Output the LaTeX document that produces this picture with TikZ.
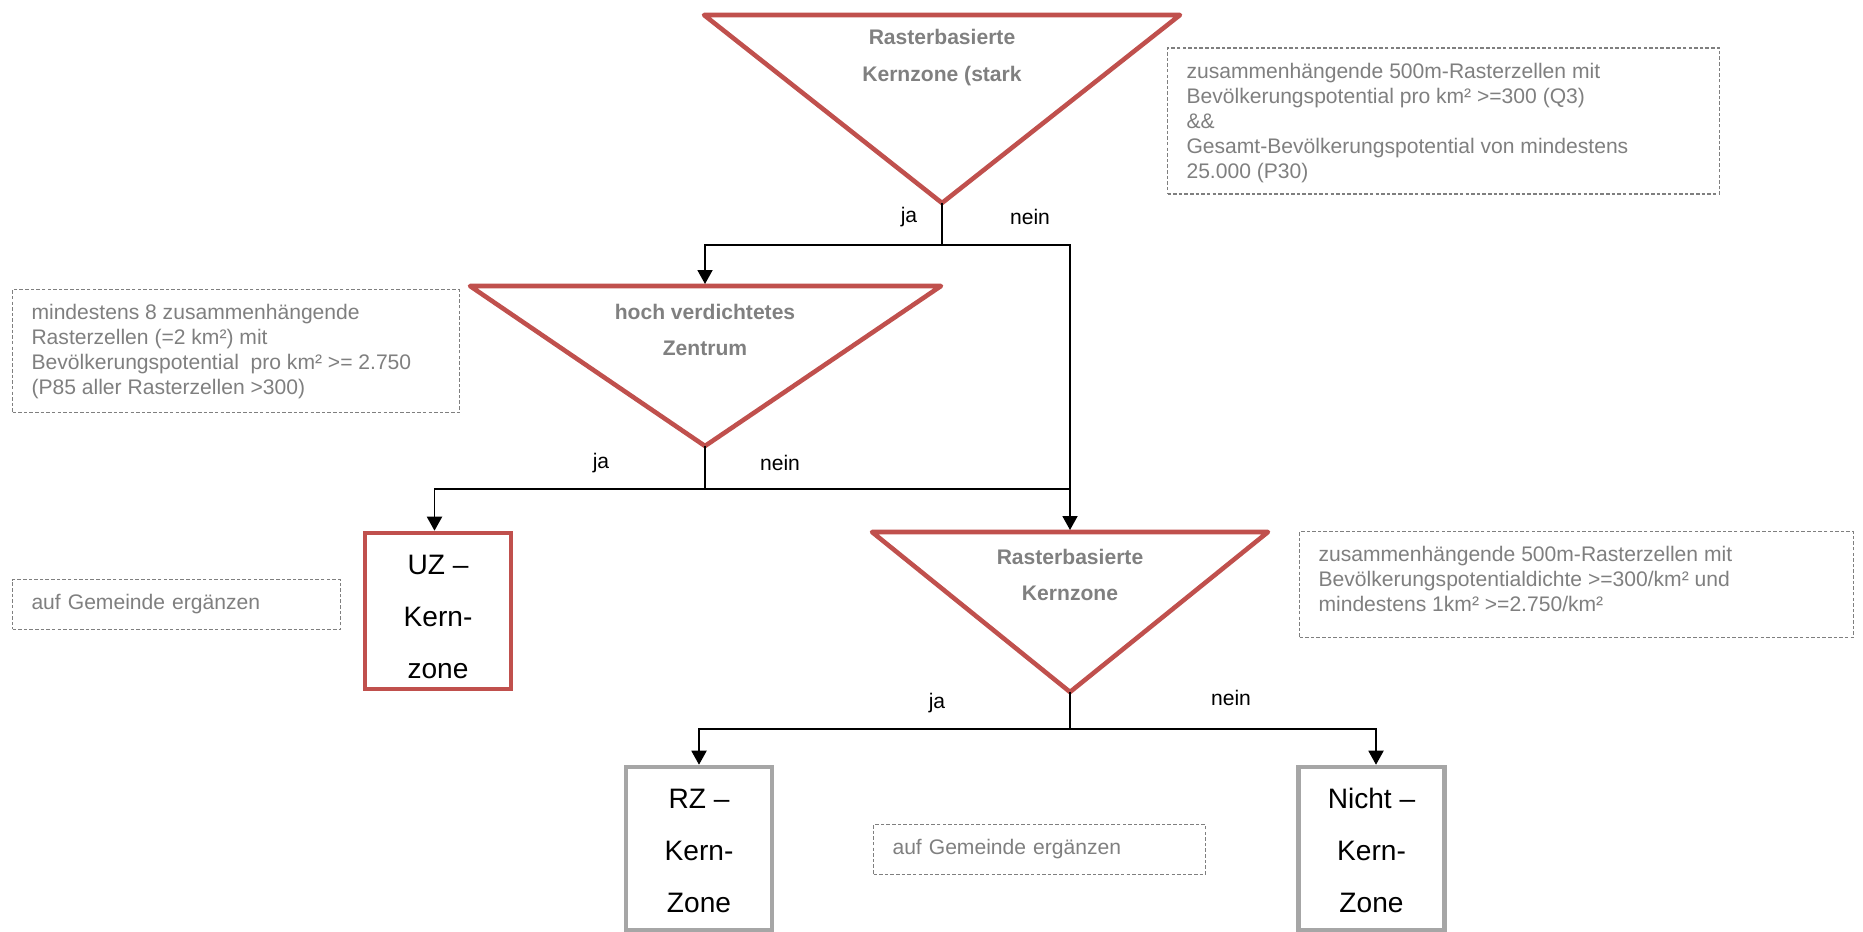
\documentclass[tikz,border=0pt]{standalone}
\usepackage{fontspec}
\setmainfont{Liberation Sans}
\usetikzlibrary{arrows.meta}

\definecolor{zonered}{HTML}{C0504D}
\definecolor{zonegrey}{HTML}{A6A6A6}
\definecolor{titlegrey}{HTML}{808080}
\definecolor{notegrey}{HTML}{7F7F7F}

\newcommand{\notepar}[3]{\parbox[t][#1][t]{#2}{\raggedright #3}}

\begin{document}
\begin{tikzpicture}[x=0.02cm, y=-0.02cm,
  decision/.style={draw=zonered, line width=2.6pt, line join=round},
  dtitle/.style={text=titlegrey, font=\bfseries\fontsize{12}{21}\selectfont, align=center},
  result/.style={draw=#1, line width=2.6pt, fill=white, minimum width=2.92cm,
    font=\fontsize{16}{29.5}\selectfont, align=center, inner sep=0pt},
  notebox/.style={draw=notegrey, dashed, dash pattern=on 2pt off 1.2pt, line width=0.6pt,
    anchor=north west, inner xsep=0.38cm, inner ysep=0.3cm, text=notegrey,
    font=\fontsize{12}{14.2}\selectfont},
  answer/.style={font=\fontsize{12}{13}\selectfont},
  link/.style={line width=1.1pt},
  arrow/.style={link, -{Triangle[length=2.8mm, width=3mm]}}]
  \useasboundingbox (0,0) rectangle (1863,932);

  % decision triangles
  \draw[decision] (704,15) -- (1180,15) -- (942,203) -- cycle;
  \draw[decision] (470,286) -- (941,286) -- (705,446) -- cycle;
  \draw[decision] (872,532) -- (1268,532) -- (1070,692) -- cycle;
  \coordinate (t1tip) at (942,203);
  \coordinate (t2top) at (705,284);
  \coordinate (t2tip) at (705,446);
  \coordinate (t3top) at (1070,530);
  \coordinate (t3tip) at (1070,692);
  \coordinate (j1) at (942,245);
  \coordinate (j2) at (705,489);
  \coordinate (j3) at (1070,729);

  \node[dtitle] (t1title) at (942,58) {Rasterbasierte\\Kernzone (stark};
  \node[dtitle] (t2title) at (705,330) {hoch verdichtetes\\Zentrum};
  \node[dtitle] (t3title) at (1070,575) {Rasterbasierte\\Kernzone};

  % result boxes
  \node[result=zonered, minimum height=3.12cm, text height=77pt] (uz) at (438,611) {UZ --\\Kern-\\zone};
  \node[result=zonegrey, minimum height=3.26cm, text height=73pt] (rz) at (699,848.5) {RZ --\\Kern-\\Zone};
  \node[result=zonegrey, minimum height=3.26cm, text height=73pt] (nk) at (1371.5,848.5) {Nicht --\\Kern-\\Zone};

  % connectors
  \draw[link] (t1tip) -- (j1);
  \draw[arrow] (j1) -| (t2top);
  \draw[arrow] (j1) -| (t3top);
  \draw[link] (t2tip) -- (j2);
  \draw[arrow] (j2) -| ([xshift=-0.07cm]uz.north);
  \draw[link] (j2) -- (j2 -| t3top);
  \draw[link] (t3tip) -- (j3);
  \draw[arrow] (j3) -| (rz.north);
  \draw[arrow] (j3) -| ([xshift=0.09cm]nk.north);

  \node[answer] (ja1) at (909,217) {ja};
  \node[answer] (nein1) at (1030,217) {nein};
  \node[answer] (ja2) at (601,463) {ja};
  \node[answer] (nein2) at (780,463) {nein};
  \node[answer] (ja3) at (937,703) {ja};
  \node[answer] (nein3) at (1231,698) {nein};

  % notes
  \node[notebox] (note1) at (1167,47.5) {\notepar{2.32cm}{10.28cm}{zusammenhängende 500m-Rasterzellen mit\\
    Bevölkerungspotential pro km² >=300 (Q3)\\
    \&\&\\
    Gesamt-Bevölkerungspotential von mindestens\\
    25.000 (P30)}};
  \node[notebox] (note2) at (12,289) {\notepar{1.86cm}{8.18cm}{mindestens 8 zusammenhängende\\
    Rasterzellen (=2 km²) mit\\
    Bevölkerungspotential\ \ pro km² >= 2.750\\
    (P85 aller Rasterzellen >300)}};
  \node[notebox, text width=5.8cm, minimum height=0.9cm] (note3) at (12,579) {auf Gemeinde ergänzen};
  \node[notebox] (note4) at (1299,531) {\notepar{1.52cm}{10.32cm}{zusammenhängende 500m-Rasterzellen mit\\
    Bevölkerungspotentialdichte >=300/km² und\\
    mindestens 1km² >=2.750/km²}};
  \node[notebox, text width=5.88cm, minimum height=0.94cm] (note5) at (873,824) {auf Gemeinde ergänzen};
\end{tikzpicture}
\end{document}
